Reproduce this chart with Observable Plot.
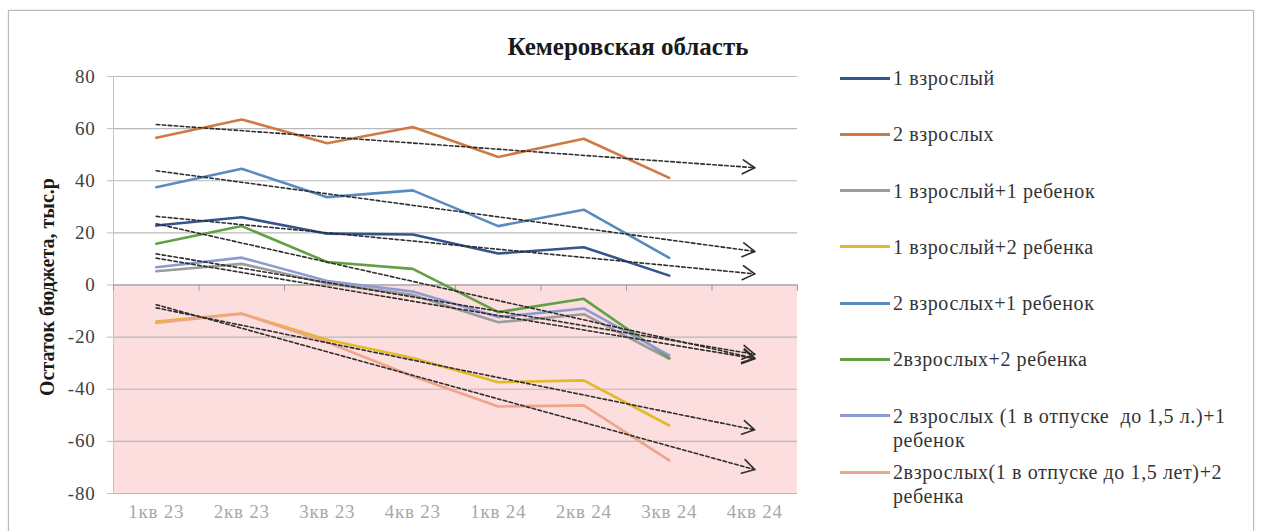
<!DOCTYPE html>
<html>
<head>
<meta charset="utf-8">
<script src="https://cdn.jsdelivr.net/npm/d3@7"></script>
<script src="https://cdn.jsdelivr.net/npm/@observablehq/plot@0.6"></script>
<style>
  html, body { margin: 0; padding: 0; background: #fff; }
  #wrap { position: relative; width: 1264px; height: 531px; overflow: hidden; background: #fff;
          font-family: "Liberation Serif", "Times New Roman", Tinos, "DejaVu Serif", "Noto Serif", serif; color: #404040; }
  #frame { position: absolute; left: 8px; top: 10px; width: 1244px; height: 540px;
           border: 1px solid #b9b9b9; box-shadow: 0 0 2px rgba(0,0,0,0.15); }
  #title { position: absolute; left: 428px; width: 400px; top: 32px; text-align: center;
           font-weight: bold; font-size: 25px; line-height: 30px; color: #1a1a1a; }
  #ytitle { position: absolute; left: 47px; top: 287px; transform: translate(-50%, -50%) rotate(-90deg);
            white-space: nowrap; font-weight: bold; font-size: 20px; color: #1a1a1a; }
  #chart { position: absolute; left: 0; top: 0; }
  #legend { position: absolute; left: 840px; top: 66px; }
  .item { display: flex; align-items: flex-start; height: 56.3px; }
  .sw { width: 50px; height: 3px; margin-top: 10.5px; flex: none; }
  .lab { margin-left: 3px; width: 362px; font-size: 20px; line-height: 24px; color: #333; white-space: pre-wrap; letter-spacing: 0.6px; }
  g[aria-label="y-axis tick"] { stroke: #bdbdbd; }
  g[aria-label="x-axis tick label"] { fill: #a8a8a8; }
  #chart svg text { letter-spacing: 0.8px; }
</style>
</head>
<body>
<div id="wrap">
  <div id="frame"></div>
  <div id="chart"></div>
  <div id="title"></div>
  <div id="ytitle"></div>
  <div id="legend"></div>
</div>
<script>
// ---- data ----
const chartTitle = "Кемеровская область";
const yTitle = "Остаток бюджета, тыс.р";
const quarters = ["1кв 23", "2кв 23", "3кв 23", "4кв 23", "1кв 24", "2кв 24", "3кв 24", "4кв 24"];
const yTicks = [-80, -60, -40, -20, 0, 20, 40, 60, 80];

const seriesNames = [
  "1 взрослый",
  "2 взрослых",
  "1 взрослый+1 ребенок",
  "1 взрослый+2 ребенка",
  "2 взрослых+1 ребенок",
  "2взрослых+2 ребенка",
  "2 взрослых (1 в отпуске  до 1,5 л.)+1 ребенок",
  "2взрослых(1 в отпуске до 1,5 лет)+2 ребенка"
];
const seriesColors = ["#34548c", "#cf7a43", "#9c9c9c", "#e3b92a", "#5a8bc0", "#62a043", "#8e9ad2", "#eea58a"];

const s1adult        = [22.8, 26.0, 19.7, 19.4, 12.1, 14.5, 3.6];
const s2adults       = [56.5, 63.5, 54.4, 60.6, 49.1, 56.1, 41.1];
const s1adult1child  = [5.3, 8.1, 0.6, -3.8, -14.3, -11.2, -28.3];
const s1adult2child  = [-14.0, -11.0, -21.0, -28.0, -37.3, -36.6, -53.9];
const s2adults1child = [37.5, 44.6, 33.7, 36.3, 22.6, 28.9, 10.4];
const s2adults2child = [15.8, 22.6, 8.8, 6.2, -10.4, -5.3, -28.0];
const sLeave1child   = [6.8, 10.5, 1.5, -2.5, -12.3, -9.0, -27.0];
const sLeave2child   = [-14.6, -11.0, -22.0, -35.0, -46.6, -46.2, -67.3];
const seriesValues = [s1adult, s2adults, s1adult1child, s1adult2child, s2adults1child, s2adults2child, sLeave1child, sLeave2child];

// ---- derived tables ----
const rows = seriesValues.flatMap((vals, k) => vals.map((v, i) => ({name: seriesNames[k], i, v})));
const lastIndex = quarters.length - 1;
function fit(vals) {
  const mx = d3.mean(vals, (_, i) => i), my = d3.mean(vals);
  const b = d3.sum(vals, (v, i) => (i - mx) * (v - my)) / d3.sum(vals, (_, i) => (i - mx) ** 2);
  return x => my + b * (x - mx);
}
// linear trend of each series, forecast one period forward
const trendRows = seriesValues.flatMap((vals, k) => {
  const f = fit(vals);
  return [0, lastIndex].map(i => ({name: seriesNames[k], i, v: f(i)}));
});
const xLo = -0.5, xHi = quarters.length - 0.5;
const boundaries = d3.range(xLo, xHi + 0.01, 1);

const plot = Plot.plot({
  width: 820,
  height: 531,
  marginLeft: 113,
  marginRight: 23,
  marginTop: 76,
  marginBottom: 38,
  style: {background: "transparent", fontFamily: "'Liberation Serif', 'Times New Roman', Tinos, 'DejaVu Serif', 'Noto Serif', serif", fontSize: "19px", color: "#404040"},
  x: {type: "linear", domain: [xLo, xHi], ticks: quarters.map((_, i) => i), tickFormat: i => quarters[i], tickSize: 0, tickPadding: 11, label: null},
  y: {domain: [yTicks[0], yTicks[yTicks.length - 1]], ticks: yTicks, tickFormat: d => String(d), tickSize: 6, tickPadding: 12, label: null},
  color: {domain: seriesNames, range: seriesColors},
  marks: [
    Plot.rect([0], {x1: xLo, x2: xHi, y1: yTicks[0], y2: 0, fill: "#fbdedd"}),
    Plot.ruleY(yTicks, {stroke: "#b9b9b9", strokeWidth: 1.2}),
    Plot.ruleX([xLo], {y1: yTicks[0], y2: yTicks[yTicks.length - 1], stroke: "#c4c4c4"}),
    Plot.ruleY([0], {stroke: "#9d9d9d", strokeWidth: 1.2}),
    Plot.ruleX(boundaries, {y1: 0, y2: -2.4, stroke: "#9d9d9d"}),
    Plot.line(rows, {x: "i", y: "v", z: "name", stroke: "name", strokeWidth: 2.6, strokeLinejoin: "miter"}),
    Plot.line(trendRows, {x: "i", y: "v", z: "name", stroke: "#2e2e2e", strokeWidth: 1.6, strokeDasharray: "3.5 2.5", markerEnd: "arrow"})
  ]
});
// open chevron arrowheads, as in the original trendlines
plot.querySelectorAll("marker").forEach(m => {
  m.setAttribute("viewBox", "-16 -10 20 20");
  m.setAttribute("markerWidth", "20");
  m.setAttribute("markerHeight", "20");
  m.setAttribute("markerUnits", "userSpaceOnUse");
  m.setAttribute("stroke-dasharray", "none");
  m.setAttribute("stroke-width", "1.6");
  m.style.overflow = "visible";
  const p = m.querySelector("path");
  if (p) p.setAttribute("d", "M-12,-7L0,0L-12,7");
});
document.getElementById("chart").appendChild(plot);

document.getElementById("title").textContent = chartTitle;
document.getElementById("ytitle").textContent = yTitle;

const legend = document.getElementById("legend");
seriesNames.forEach((name, k) => {
  const item = document.createElement("div");
  item.className = "item";
  const sw = document.createElement("div");
  sw.className = "sw";
  sw.style.background = seriesColors[k];
  const lab = document.createElement("div");
  lab.className = "lab";
  lab.textContent = name;
  item.appendChild(sw);
  item.appendChild(lab);
  legend.appendChild(item);
});
</script>
</body>
</html>
